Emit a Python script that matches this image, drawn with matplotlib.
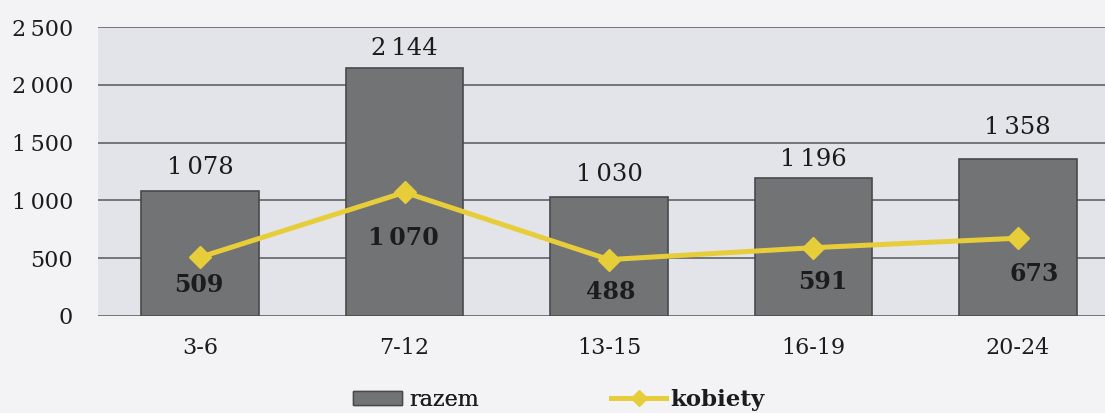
import numpy as np
import matplotlib.pyplot as plt
from matplotlib.patches import Patch
from matplotlib.lines import Line2D

# age groups and counts
categories = ['3-6', '7-12', '13-15', '16-19', '20-24']
razem = [1078, 2144, 1030, 1196, 1358]
kobiety = [509, 1070, 488, 591, 673]
y_ticks = [0, 500, 1000, 1500, 2000, 2500]


def fmt(v):
    # polish thousands separator (thin space)
    s = '{:,}'.format(int(v))
    return s.replace(',', '\u2009')


plt.rcParams['font.family'] = ['DejaVu Serif']

bar_color = '#727375'
bar_edge = '#48494b'
line_color = '#e8cd3a'
grid_color = '#6c6d70'
text_color = '#1c1c1c'

fig = plt.figure(figsize=(11.05, 4.13), dpi=100)
fig.patch.set_facecolor('#f3f3f5')
ax = fig.add_axes([98 / 1105, 1 - 316 / 413, (1120 - 98) / 1105, 289 / 413])
ax.set_facecolor('#e3e4e9')

x = np.arange(len(categories))
ax.bar(x, razem, width=0.575, color=bar_color, edgecolor=bar_edge, linewidth=1.2, zorder=2)
ax.plot(x, kobiety, color=line_color, linewidth=3.6, marker='D', markersize=11,
        markerfacecolor=line_color, markeredgecolor=line_color, zorder=3)

# bar value labels (offsets in points)
bar_offsets = [17, 14.5, 16.5, 13, 23]
for xi, v, off in zip(x, razem, bar_offsets):
    ax.annotate(fmt(v), (xi, v), xytext=(0, off), textcoords='offset points',
                ha='center', va='center', fontsize=17.5, color=text_color)

# line value labels (offsets in points)
line_offsets = [(-1, -20), (-1, -33), (1, -23), (7, -25), (12, -26)]
for xi, v, (dx, dy) in zip(x, kobiety, line_offsets):
    ax.annotate(fmt(v), (xi, v), xytext=(dx, dy), textcoords='offset points',
                ha='center', va='center', fontsize=17, fontweight='bold', color=text_color)

ax.set_xlim(-0.5, len(categories) - 0.5)
ax.set_ylim(0, 2500)
ax.set_yticks(y_ticks)
ax.set_yticklabels([fmt(t) for t in y_ticks], fontsize=16, color=text_color)
ax.set_xticks(x)
ax.set_xticklabels(categories, fontsize=16, color=text_color)
ax.tick_params(axis='y', length=0, pad=18)
ax.tick_params(axis='x', length=0, pad=15)
ax.grid(axis='y', color=grid_color, linewidth=1.3, zorder=0)
ax.set_axisbelow(True)
for s in ax.spines.values():
    s.set_visible(False)

leg1 = fig.legend(handles=[Patch(facecolor=bar_color, edgecolor=bar_edge)], labels=['razem'],
                  loc='center', bbox_to_anchor=(416 / 1105, 1 - 400 / 413), frameon=False,
                  fontsize=16, handlelength=2.2, handleheight=0.6, handletextpad=0.3,
                  borderpad=0, borderaxespad=0, labelcolor=text_color)
leg2 = fig.legend(handles=[Line2D([0], [0], color=line_color, linewidth=3.6, marker='D',
                                  markersize=8)], labels=['kobiety'],
                  loc='center', bbox_to_anchor=(688 / 1105, 1 - 400 / 413), frameon=False,
                  prop={'size': 16.5, 'weight': 'bold'}, handlelength=2.4, handletextpad=0.2,
                  borderpad=0, borderaxespad=0, labelcolor=text_color)
fig.add_artist(leg1)

fig.savefig('out.png', dpi=100, facecolor=fig.get_facecolor())
